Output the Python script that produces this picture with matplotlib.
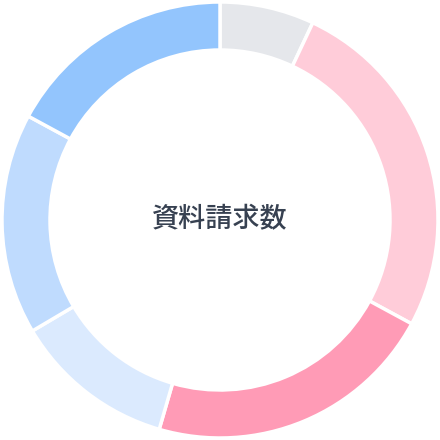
import matplotlib
matplotlib.use("Agg")
import matplotlib.pyplot as plt

# share of each segment, clockwise from 12 o'clock
values = [7.0, 25.9, 21.6, 12.0, 16.4, 17.1]
colors = ["#e5e7eb", "#ffccd9", "#ff9bb6", "#dbeafe", "#bfdbfe", "#93c5fd"]
center_label = "資料請求数"

plt.rcParams["font.family"] = ["Noto Sans CJK JP", "DejaVu Sans"]

fig = plt.figure(figsize=(4.4, 4.4), dpi=100)
ax = fig.add_axes([0, 0, 1, 1])

ax.pie(
    values,
    colors=colors,
    startangle=90,
    counterclock=False,
    radius=1.0,
    wedgeprops=dict(width=48 / 218, edgecolor="white", linewidth=2.5),
)

ax.text(0, 0, center_label, ha="center", va="center",
        fontsize=19.5, fontweight="medium", color="#374151")

lim = 220 / 218
ax.set_xlim(-lim, lim)
ax.set_ylim(-lim, lim)
ax.set_aspect("equal")
ax.axis("off")

fig.savefig("out.png", dpi=100, facecolor="white")
